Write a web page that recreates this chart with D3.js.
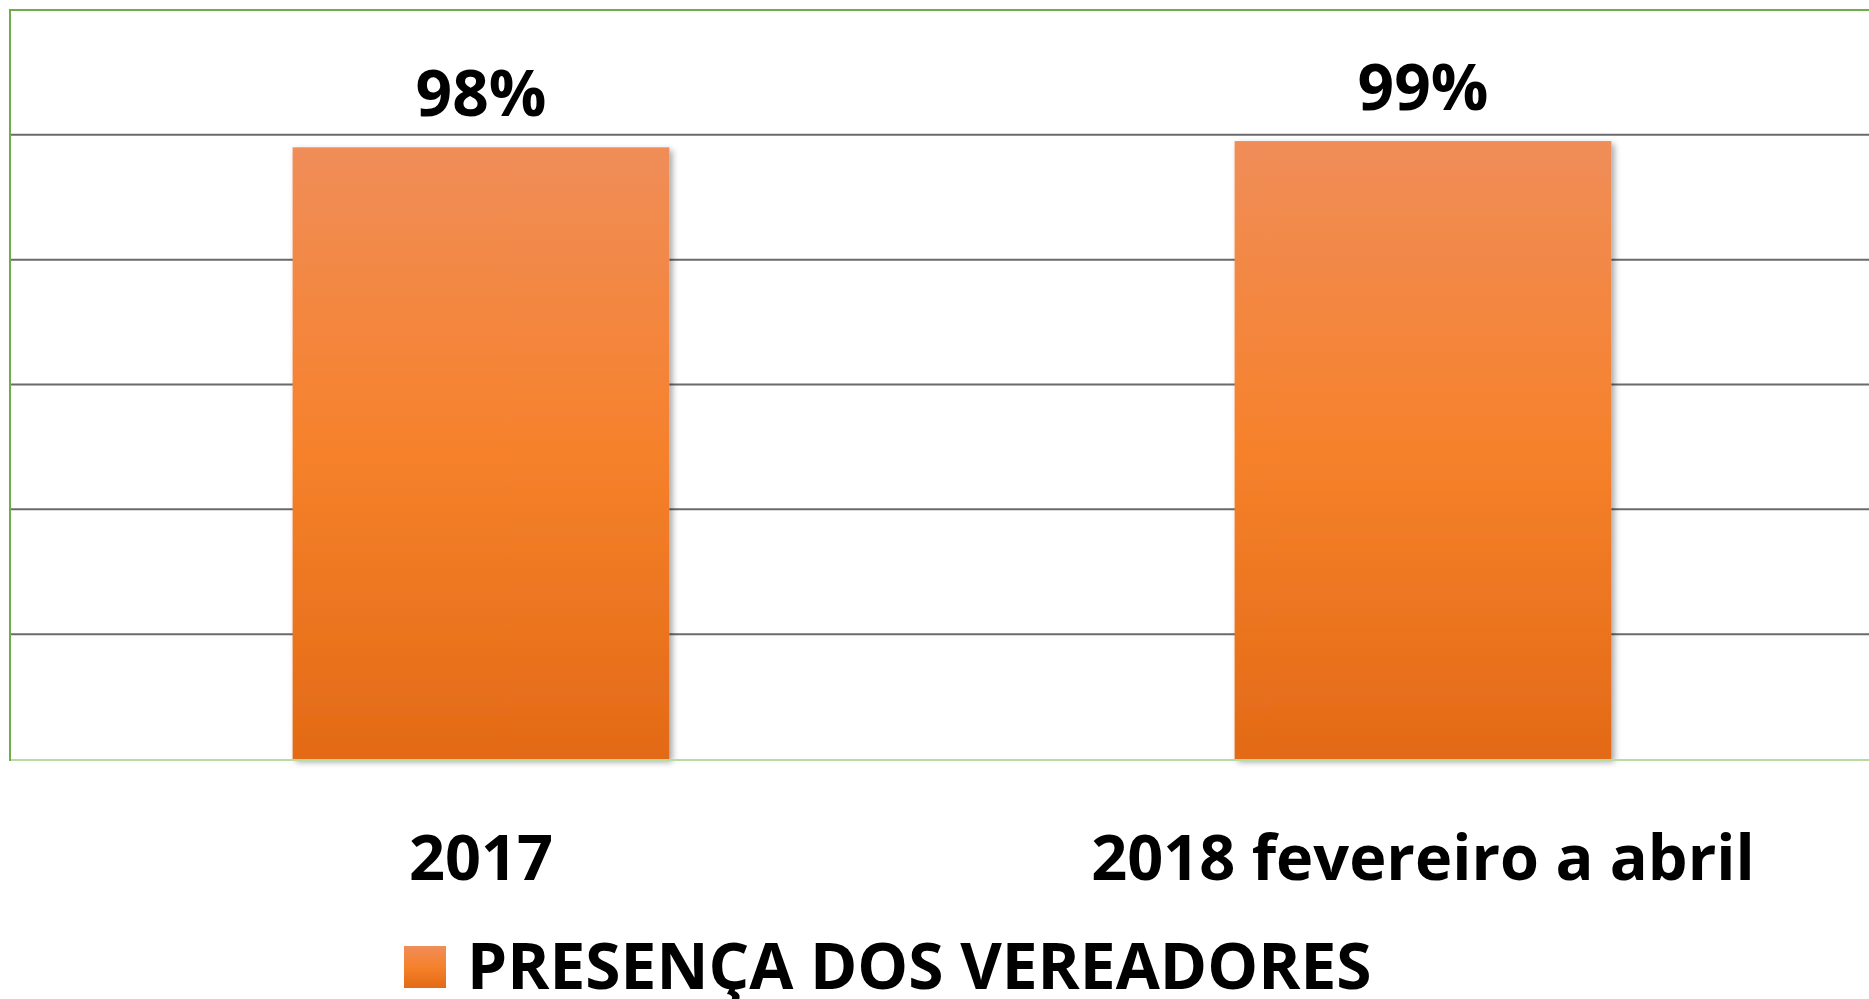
<!DOCTYPE html>
<html>
<head>
<meta charset="utf-8">
<script src="https://cdn.jsdelivr.net/npm/d3@7"></script>
<style>
  html, body { margin: 0; padding: 0; background: #fff; overflow: hidden; }
  svg { display: block; font-family: "Open Sans", sans-serif; }
</style>
</head>
<body>
<svg id="chart" width="1869" height="999"></svg>
<script>
// dados
const categories = ["2017", "2018 fevereiro a abril"]
const values = [0.98, 0.99]
const seriesName = "PRESENÇA DOS VEREADORES"
const gridTicks = [0.2, 0.4, 0.6, 0.8, 1.0]

const svg = d3.select("#chart")
const plotLeft = 10, plotRight = 1894, plotTop = 10, plotBottom = 759

const x = d3.scaleBand()
    .domain(categories)
    .range([plotLeft, plotRight])
    .paddingInner(0.6)
    .paddingOuter(0.3)
const y = d3.scaleLinear().domain([0, 1.2]).range([plotBottom, plotTop])

const defs = svg.append("defs")
const grad = defs.append("linearGradient")
    .attr("id", "barGrad").attr("x1", 0).attr("y1", 0).attr("x2", 0).attr("y2", 1)
grad.append("stop").attr("offset", "0%").attr("stop-color", "#f08d58")
grad.append("stop").attr("offset", "50%").attr("stop-color", "#f6812b")
grad.append("stop").attr("offset", "100%").attr("stop-color", "#e36a16")

const shadow = defs.append("filter").attr("id", "shadow")
    .attr("x", "-10%").attr("y", "-10%").attr("width", "130%").attr("height", "130%")
shadow.append("feDropShadow")
    .attr("dx", 3).attr("dy", 3).attr("stdDeviation", 3)
    .attr("flood-color", "#000").attr("flood-opacity", 0.35)

// linhas de grade
svg.append("g")
    .selectAll("line")
    .data(gridTicks)
    .join("line")
    .attr("x1", plotLeft).attr("x2", plotRight)
    .attr("y1", d => y(d)).attr("y2", d => y(d))
    .attr("stroke", "#6a6a6a")
    .attr("stroke-width", 2)

// barras
svg.append("g")
    .selectAll("rect")
    .data(values)
    .join("rect")
    .attr("x", (d, i) => x(categories[i]))
    .attr("y", d => y(d))
    .attr("width", x.bandwidth())
    .attr("height", d => y(0) - y(d))
    .attr("fill", "url(#barGrad)")
    .attr("filter", "url(#shadow)")

// borda da área do gráfico
svg.append("line")
    .attr("x1", plotLeft).attr("x2", plotRight).attr("y1", y(0) + 1).attr("y2", y(0) + 1)
    .attr("stroke", "#b9d9a5").attr("stroke-width", 2)
svg.append("line")
    .attr("x1", plotLeft).attr("x2", plotLeft).attr("y1", plotTop).attr("y2", y(0) + 2)
    .attr("stroke", "#70ad47").attr("stroke-width", 2)
svg.append("line")
    .attr("x1", plotLeft - 1).attr("x2", plotRight).attr("y1", plotTop).attr("y2", plotTop)
    .attr("stroke", "#70ad47").attr("stroke-width", 2)

// rótulos de valor
svg.append("g")
    .selectAll("text")
    .data(values)
    .join("text")
    .attr("x", (d, i) => x(categories[i]) + x.bandwidth() / 2)
    .attr("y", d => y(d) - 31)
    .attr("text-anchor", "middle")
    .attr("font-size", 64)
    .attr("font-weight", 700)
    .attr("fill", "#000")
    .text(d => d3.format(".0%")(d))

// eixo x
svg.append("g")
    .selectAll("text")
    .data(categories)
    .join("text")
    .attr("x", d => x(d) + x.bandwidth() / 2)
    .attr("y", 880)
    .attr("text-anchor", "middle")
    .attr("font-size", 63)
    .attr("font-weight", 700)
    .attr("fill", "#000")
    .text(d => d)

// legenda
const legend = svg.append("g").attr("transform", "translate(404,946)")
legend.append("rect")
    .attr("width", 42).attr("height", 42)
    .attr("fill", "url(#barGrad)")
legend.append("text")
    .attr("x", 63).attr("y", 43)
    .attr("font-size", 64)
    .attr("font-weight", 700)
    .attr("fill", "#000")
    .text(seriesName)
</script>
</body>
</html>
